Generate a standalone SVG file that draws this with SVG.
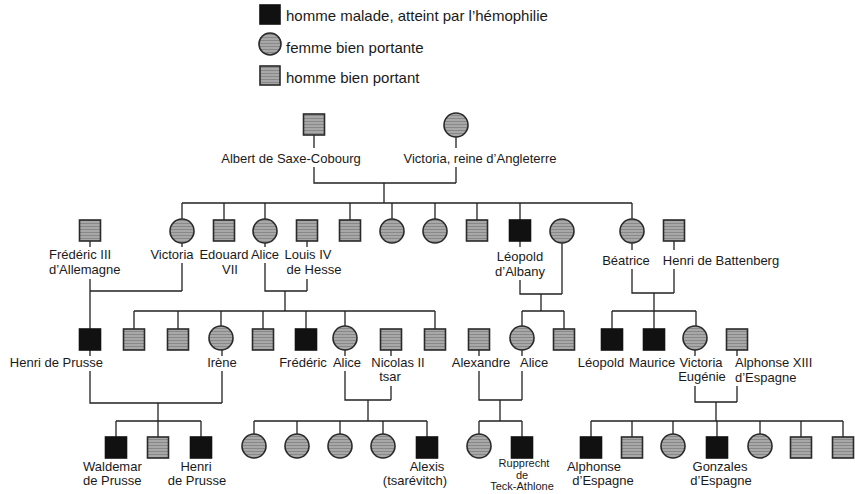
<svg xmlns="http://www.w3.org/2000/svg" width="855" height="494" viewBox="0 0 855 494">
<defs>
<pattern id="tex" width="6" height="3" patternUnits="userSpaceOnUse">
<rect width="6" height="3" fill="#a8a8a8"/>
<line x1="0" y1="1.5" x2="6" y2="1.5" stroke="#888" stroke-width="1"/>
</pattern>
</defs>
<style>
.m{fill:url(#tex);stroke:#2a2a2a;stroke-width:1.6}
.f{fill:url(#tex);stroke:#2a2a2a;stroke-width:1.6}
.a{fill:#111;stroke:#111;stroke-width:1.6}
.ln{fill:none;stroke:#222;stroke-width:1.3}
text{font-family:"Liberation Sans",Arial,sans-serif;font-size:13px;fill:#1a1a1a}
.lg{font-size:15px}
.sm{font-size:11px}
.c{text-anchor:middle}
.e{text-anchor:end}
</style>
<rect width="855" height="494" fill="#fff"/>

<g id="legend">
<rect class="a" x="260" y="5" width="20" height="19"/>
<text class="lg" x="286" y="21">homme malade, atteint par l’hémophilie</text>
<circle class="f" cx="270" cy="44" r="11"/>
<text class="lg" x="286" y="53">femme bien portante</text>
<rect class="m" x="260" y="66" width="20" height="19"/>
<text class="lg" x="286" y="83">homme bien portant</text>
</g>

<g id="connectors" class="ln">
<path d="M314 135V148M314 167V183H456M456 137V148M456 167V183M384 183V203M182 203H632"/>
<path d="M182 203V219M224 203V220M265 203V219M350 203V220M392 203V219M435 203V219M477 203V220M520 203V220M632 203V219"/>
<path d="M90 241V247M90 279V329M90 291H182M182 243V247M182 263V291"/>
<path d="M265 243V247M265 263V291H307M307 241V247M307 279V291M285 291V311M134 311H435M134 311V329M178 311V329M221 311V326M263 311V329M306 311V329M345 311V326M435 311V329"/>
<path d="M520 241V247M520 280V294H562M562 243V294M541 294V311M522 311H564M522 311V326M564 311V329"/>
<path d="M632 243V250M632 269V293H674M674 241V250M674 269V293M654 293V311M612 311H696M612 311V329M654 311V329M696 311V326"/>
<path d="M90 350V356M90 371V403H222M222 350V356M222 371V403M158 403V437M116 421H201M116 421V437M201 421V437"/>
<path d="M345 350V356M345 371V400H391M391 350V356M391 386V400M368 400V421M254 421H427M254 421V434M297 421V434M340 421V434M383 421V434M427 421V437"/>
<path d="M479 350V356M479 371V400H522M522 350V356M522 371V400M500 400V421M479 421H522M479 421V434M522 421V437"/>
<path d="M695 350V356M695 386V402H737M737 350V356M737 386V402M716 402V421M591 421H843M591 421V437M632 421V437M673 421V434M717 421V437M760 421V434M801 421V437M843 421V437"/>
</g>

<g id="albert"><rect class="m" x="303.5" y="114" width="21" height="21"/><text class="c" x="291" y="163">Albert de Saxe-Cobourg</text></g>
<g id="victoria-reine"><circle class="f" cx="456" cy="125" r="12"/><text class="c" x="480" y="163">Victoria, reine d’Angleterre</text></g>

<g id="frederic3"><rect class="m" x="79.5" y="220" width="21" height="21"/><text x="49" y="259">Frédéric III</text><text x="49" y="274">d’Allemagne</text></g>
<g id="victoria"><circle class="f" cx="182" cy="231" r="12"/><text class="c" x="172" y="259">Victoria</text></g>
<g id="edouard7"><rect class="m" x="213.5" y="220" width="21" height="21"/><text class="c" x="224" y="259">Edouard</text><text class="c" x="230" y="274">VII</text></g>
<g id="alice"><circle class="f" cx="265" cy="231" r="12"/><text class="c" x="265" y="259">Alice</text></g>
<g id="louis4"><rect class="m" x="296.5" y="220" width="21" height="21"/><text class="c" x="308" y="259">Louis IV</text><text class="c" x="314" y="274">de Hesse</text></g>
<g id="v-son1"><rect class="m" x="339.5" y="220" width="21" height="21"/></g>
<g id="v-dau1"><circle class="f" cx="392" cy="231" r="12"/></g>
<g id="v-dau2"><circle class="f" cx="435" cy="231" r="12"/></g>
<g id="v-son2"><rect class="m" x="466.5" y="220" width="21" height="21"/></g>
<g id="leopold-albany"><rect class="a" x="509.5" y="220" width="21" height="21"/><text class="c" x="520" y="261">Léopold</text><text class="c" x="520" y="276">d’Albany</text></g>
<g id="leopold-wife"><circle class="f" cx="562" cy="231" r="12"/></g>
<g id="beatrice"><circle class="f" cx="632" cy="231" r="12"/><text class="c" x="626" y="265">Béatrice</text></g>
<g id="henri-battenberg"><rect class="m" x="663.5" y="220" width="21" height="21"/><text class="c" x="721" y="265">Henri de Battenberg</text></g>

<g id="henri-prusse"><rect class="a" x="79.5" y="329" width="21" height="21"/><text class="e" x="103" y="367">Henri de Prusse</text></g>
<g id="a-son1"><rect class="m" x="123.5" y="329" width="21" height="21"/></g>
<g id="a-son2"><rect class="m" x="167.5" y="329" width="21" height="21"/></g>
<g id="irene"><circle class="f" cx="221" cy="338" r="12"/><text class="c" x="222" y="367">Irène</text></g>
<g id="a-son3"><rect class="m" x="252.5" y="329" width="21" height="21"/></g>
<g id="frederic"><rect class="a" x="295.5" y="329" width="21" height="21"/><text class="c" x="303" y="367">Frédéric</text></g>
<g id="alice-hesse"><circle class="f" cx="345" cy="338" r="12"/><text class="c" x="347" y="367">Alice</text></g>
<g id="nicolas2"><rect class="m" x="380.5" y="329" width="21" height="21"/><text class="c" x="398" y="367">Nicolas II</text><text class="c" x="390" y="381">tsar</text></g>
<g id="a-son4"><rect class="m" x="424.5" y="329" width="21" height="21"/></g>
<g id="alexandre"><rect class="m" x="468.5" y="329" width="21" height="21"/><text class="c" x="481" y="367">Alexandre</text></g>
<g id="alice-albany"><circle class="f" cx="522" cy="338" r="12"/><text x="520" y="367">Alice</text></g>
<g id="l-son"><rect class="m" x="553.5" y="329" width="21" height="21"/></g>
<g id="leopold"><rect class="a" x="601.5" y="329" width="21" height="21"/><text class="c" x="601" y="367">Léopold</text></g>
<g id="maurice"><rect class="a" x="643.5" y="329" width="21" height="21"/><text class="c" x="652" y="367">Maurice</text></g>
<g id="victoria-eugenie"><circle class="f" cx="695" cy="338" r="12"/><text class="c" x="701" y="367">Victoria</text><text class="c" x="702" y="381">Eugénie</text></g>
<g id="alphonse13"><rect class="m" x="726.5" y="329" width="21" height="21"/><text x="735" y="367">Alphonse XIII</text><text x="735" y="382">d’Espagne</text></g>

<g id="waldemar"><rect class="a" x="105.5" y="437" width="21" height="21"/><text x="83" y="471">Waldemar</text><text x="83" y="485">de Prusse</text></g>
<g id="p-son"><rect class="m" x="147.5" y="437" width="21" height="21"/></g>
<g id="henri"><rect class="a" x="190.5" y="437" width="21" height="21"/><text class="c" x="196" y="471">Henri</text><text class="c" x="197" y="485">de Prusse</text></g>
<g id="n-dau1"><circle class="f" cx="254" cy="446" r="12"/></g>
<g id="n-dau2"><circle class="f" cx="297" cy="446" r="12"/></g>
<g id="n-dau3"><circle class="f" cx="340" cy="446" r="12"/></g>
<g id="n-dau4"><circle class="f" cx="383" cy="446" r="12"/></g>
<g id="alexis"><rect class="a" x="416.5" y="437" width="21" height="21"/><text class="c" x="427" y="471">Alexis</text><text class="c" x="415" y="485">(tsarévitch)</text></g>
<g id="x-dau"><circle class="f" cx="479" cy="446" r="12"/></g>
<g id="rupprecht"><rect class="a" x="511.5" y="437" width="21" height="21"/><text class="c sm" x="524" y="467">Rupprecht</text><text class="c sm" x="522" y="479">de</text><text class="c sm" x="522" y="490">Teck-Athlone</text></g>
<g id="alphonse"><rect class="a" x="580.5" y="437" width="21" height="21"/><text class="c" x="594" y="471">Alphonse</text><text class="c" x="603" y="485">d’Espagne</text></g>
<g id="e-son1"><rect class="m" x="621.5" y="437" width="21" height="21"/></g>
<g id="e-dau1"><circle class="f" cx="673" cy="446" r="12"/></g>
<g id="gonzales"><rect class="a" x="706.5" y="437" width="21" height="21"/><text class="c" x="720" y="471">Gonzales</text><text class="c" x="721" y="485">d’Espagne</text></g>
<g id="e-dau2"><circle class="f" cx="760" cy="446" r="12"/></g>
<g id="e-son2"><rect class="m" x="790.5" y="437" width="21" height="21"/></g>
<g id="e-son3"><rect class="m" x="832.5" y="437" width="21" height="21"/></g>
</svg>
